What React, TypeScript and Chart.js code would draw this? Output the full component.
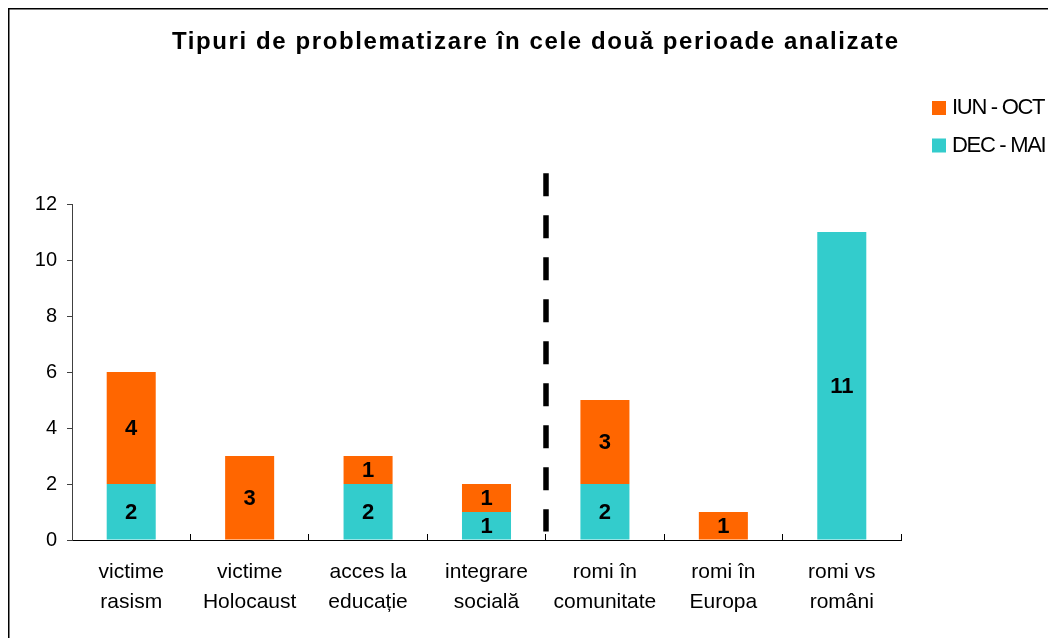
import React, { useEffect, useRef } from "react";
import { Chart, registerables } from "chart.js";

Chart.register(...registerables);

const categories: string[][] = [
  ["victime", "rasism"],
  ["victime", "Holocaust"],
  ["acces la", "educație"],
  ["integrare", "socială"],
  ["romi în", "comunitate"],
  ["romi în", "Europa"],
  ["romi vs", "români"],
];
const seriesNames = ["DEC - MAI", "IUN - OCT"];
const decMai = [2, 0, 2, 1, 2, 0, 11];
const iunOct = [4, 3, 1, 1, 3, 1, 0];
const yTicks = [0, 2, 4, 6, 8, 10, 12];
const chartTitle = "Tipuri de problematizare în cele două perioade analizate";
const seriesColors = ["#33CCCC", "#FF6600"];

const FONT = "'Liberation Sans', Arial, sans-serif";

const decorPlugin = {
  id: "decor",
  afterDraw(chart: any) {
    const ctx = chart.ctx as CanvasRenderingContext2D;
    const xs = chart.scales.x;
    const ys = chart.scales.y;

    // frame
    ctx.save();
    ctx.strokeStyle = "#000";
    ctx.lineWidth = 1.5;
    ctx.beginPath();
    ctx.moveTo(8.75, 638);
    ctx.lineTo(8.75, 8.75);
    ctx.lineTo(1048, 8.75);
    ctx.stroke();
    ctx.restore();

    // title
    ctx.save();
    ctx.fillStyle = "#000";
    ctx.font = `bold 24px ${FONT}`;
    ctx.textBaseline = "alphabetic";
    ctx.textAlign = "left";
    const w0 = ctx.measureText(chartTitle).width;
    const spacing = (726 - w0) / (chartTitle.length - 1);
    (ctx as any).letterSpacing = `${spacing}px`;
    ctx.fillText(chartTitle, 172, 49);
    ctx.restore();

    // legend (reverse order: last series on top)
    ctx.save();
    ctx.font = `22px ${FONT}`;
    (ctx as any).letterSpacing = "-1.3px";
    ctx.textBaseline = "alphabetic";
    ctx.textAlign = "left";
    const order = [1, 0];
    order.forEach((si, row) => {
      const top = 101 + row * 37.5;
      ctx.fillStyle = seriesColors[si];
      ctx.fillRect(932, top, 14, 14);
      ctx.fillStyle = "#000";
      ctx.fillText(seriesNames[si], 952, top + 13);
    });
    ctx.restore();

    // dashed separator between the two periods
    ctx.save();
    ctx.strokeStyle = "#000";
    ctx.lineWidth = 5.5;
    ctx.setLineDash([23, 19]);
    const sx = Math.round(xs.getPixelForValue(3.5));
    ctx.beginPath();
    ctx.moveTo(sx, ys.getPixelForValue(13.1));
    ctx.lineTo(sx, ys.getPixelForValue(0.3));
    ctx.stroke();
    ctx.restore();

    // data labels
    ctx.save();
    ctx.font = `bold 22px ${FONT}`;
    ctx.fillStyle = "#000";
    ctx.textAlign = "center";
    ctx.textBaseline = "middle";
    chart.data.datasets.forEach((ds: any, di: number) => {
      const meta = chart.getDatasetMeta(di);
      meta.data.forEach((el: any, i: number) => {
        const v = ds.data[i];
        if (!v) return;
        ctx.fillText(String(v), el.x, (el.y + el.base) / 2 + 1);
      });
    });
    ctx.restore();
  },
};

export default function App() {
  const ref = useRef<HTMLCanvasElement | null>(null);

  useEffect(() => {
    if (!ref.current) return;
    const chart = new Chart(ref.current, {
      type: "bar",
      data: {
        labels: categories,
        datasets: [
          {
            label: seriesNames[0],
            data: decMai,
            backgroundColor: seriesColors[0],
            borderWidth: 0,
            barPercentage: 0.414,
            categoryPercentage: 1,
          },
          {
            label: seriesNames[1],
            data: iunOct,
            backgroundColor: seriesColors[1],
            borderWidth: 0,
            barPercentage: 0.414,
            categoryPercentage: 1,
          },
        ],
      },
      options: {
        responsive: false,
        animation: false,
        layout: { padding: { left: 0, top: 204, right: 147, bottom: 0 } },
        plugins: {
          legend: { display: false },
          title: { display: false },
          tooltip: { enabled: false },
        },
        scales: {
          x: {
            stacked: true,
            grid: {
              display: true,
              drawOnChartArea: false,
              offset: true,
              tickLength: -6,
              color: "#000",
            },
            border: { color: "#000", width: 1 },
            ticks: {
              color: "#000",
              font: { family: FONT, size: 21, lineHeight: 30 / 21 },
              padding: 23,
              maxRotation: 0,
              autoSkip: false,
            },
            afterFit: (s: any) => {
              s.height = 98;
            },
          },
          y: {
            stacked: true,
            min: 0,
            max: 12,
            afterBuildTicks: (s: any) => {
              s.ticks = yTicks.map((v) => ({ value: v }));
            },
            ticks: {
              color: "#000",
              font: { family: FONT, size: 20 },
              padding: 10,
            },
            grid: {
              display: true,
              drawOnChartArea: false,
              tickLength: 5,
              color: "#404040",
            },
            border: { color: "#404040", width: 1 },
            afterFit: (s: any) => {
              s.width = 72;
            },
          },
        },
      },
      plugins: [decorPlugin],
    });
    return () => chart.destroy();
  }, []);

  return (
    <div style={{ position: "fixed", left: 0, top: 0, width: 1048, height: 638, background: "#fff" }}>
      <canvas ref={ref} width={1048} height={638} style={{ display: "block" }} />
    </div>
  );
}
